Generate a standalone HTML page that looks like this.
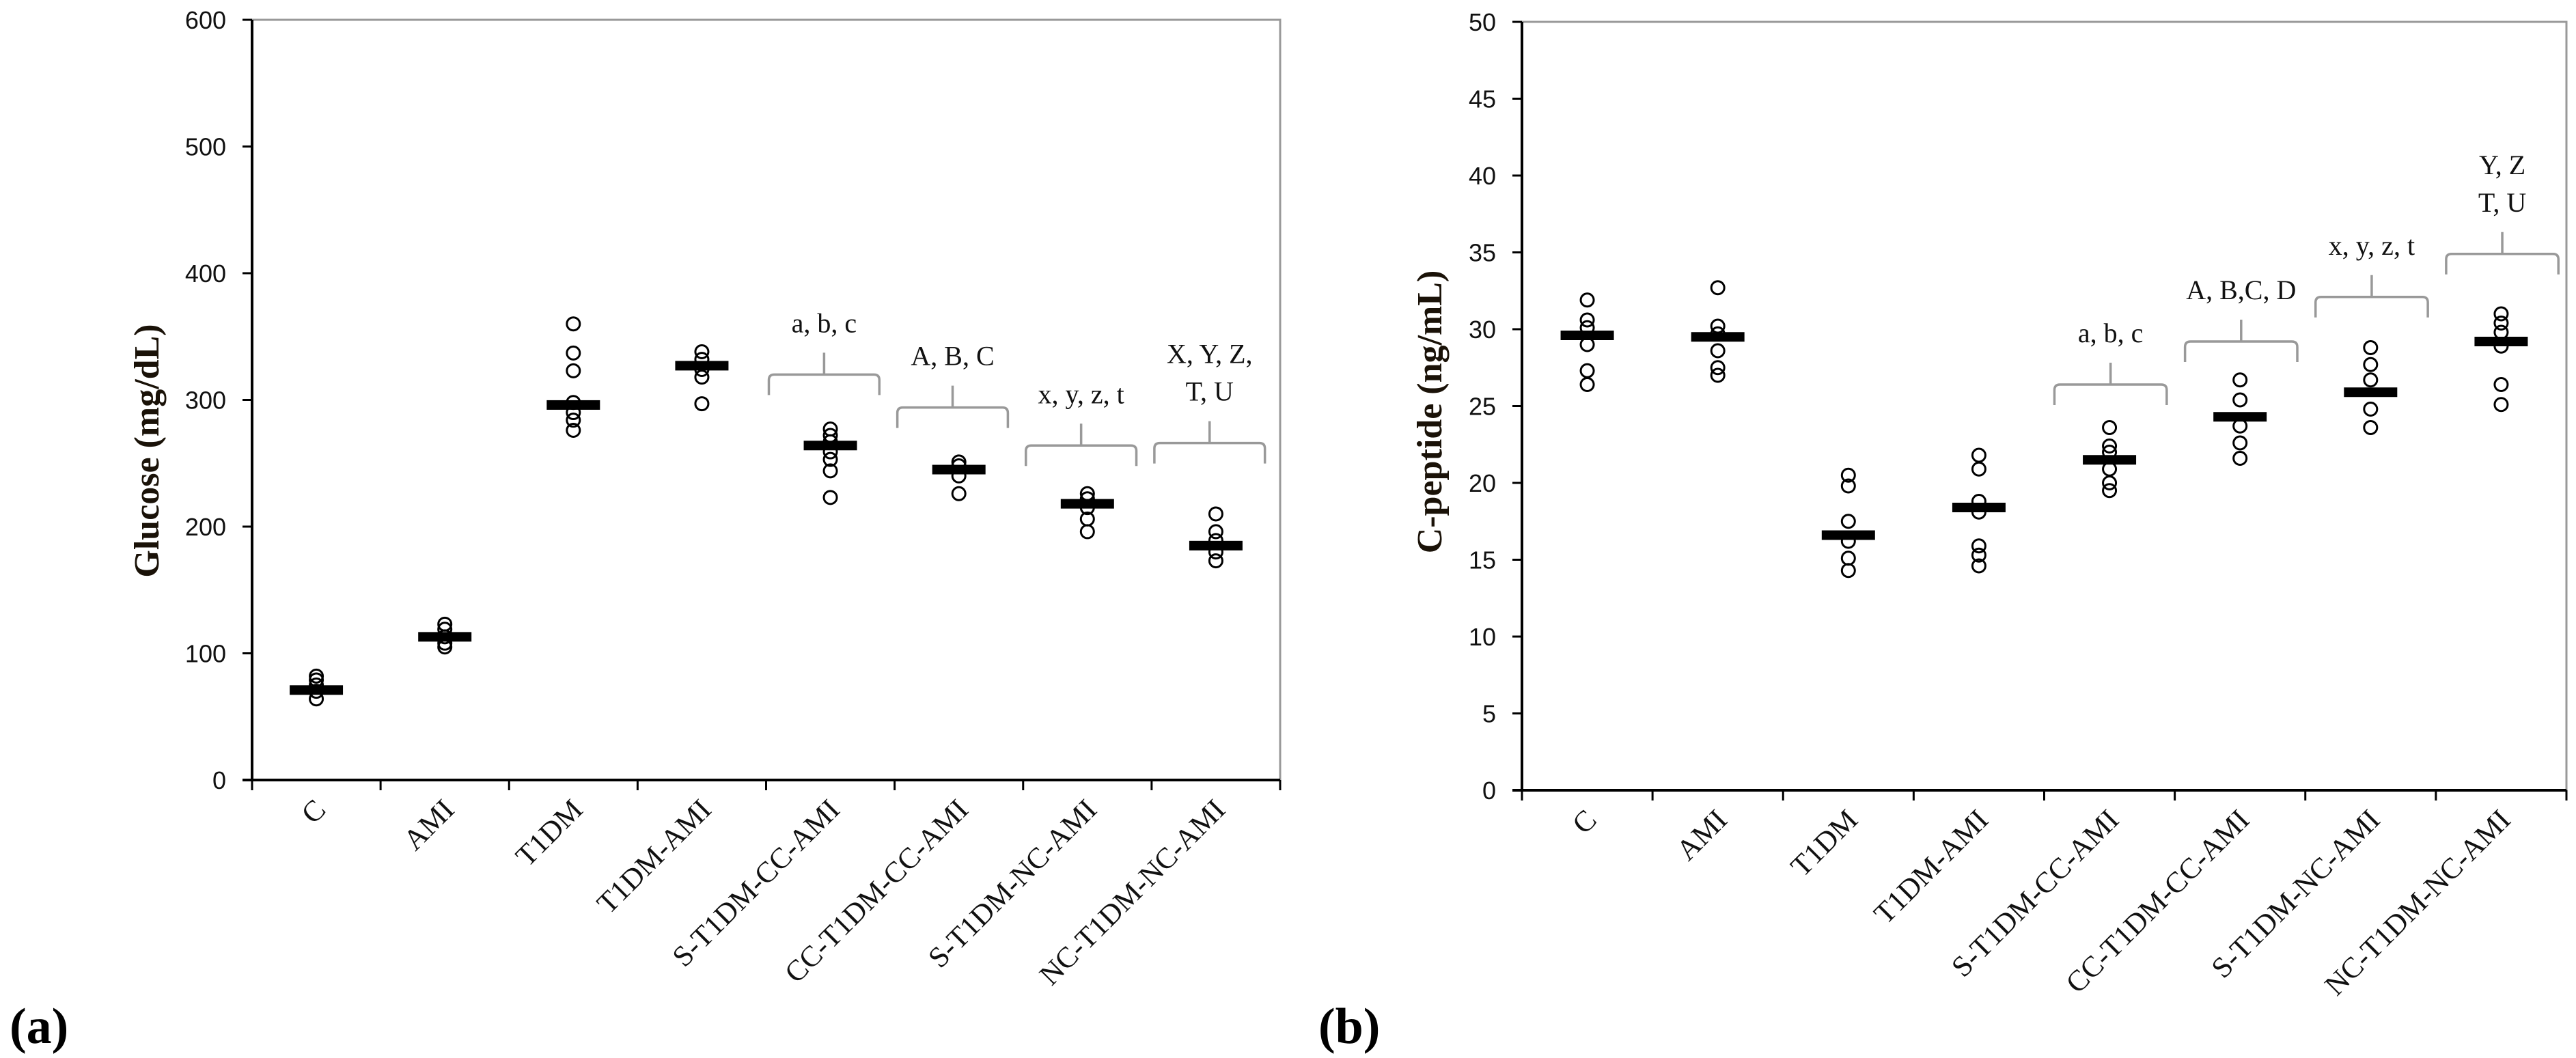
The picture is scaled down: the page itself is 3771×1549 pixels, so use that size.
<!DOCTYPE html>
<html><head><meta charset="utf-8"><style>
html,body{margin:0;padding:0;background:#fff;}
svg{display:block;}
</style></head><body>
<svg id="fig" width="3771" height="1549" viewBox="0 0 3771 1549" xmlns="http://www.w3.org/2000/svg">
<text x="14" y="1527" font-family="Liberation Serif, serif" font-weight="bold" font-size="74" fill="#000">(a)</text>
<text x="1930" y="1527" font-family="Liberation Serif, serif" font-weight="bold" font-size="74" fill="#000">(b)</text>
</svg>
<script>
const categories = ["C","AMI","T1DM","T1DM-AMI","S-T1DM-CC-AMI","CC-T1DM-CC-AMI","S-T1DM-NC-AMI","NC-T1DM-NC-AMI"];

// Panel (a) Glucose
const glucoseTicks = [0,100,200,300,400,500,600];
const glucoseMeans = [71,113,296,327,264,245,218,185];
const glucosePoints = [
  [82,79,75,70,64],
  [123,119,113,108,105],
  [360,337,323,298,290,284,276],
  [338,332,324,318,297],
  [277,272,267,259,253,244,223],
  [251,248,240,226],
  [226,222,215,206,196],
  [210,196,189,180,173]
];
const glucoseBrackets = [null,null,null,null,320,294,264,266];
const glucoseLabels = [null,null,null,null,["a, b, c"],["A, B, C"],["x, y, z, t"],["X, Y, Z,","T, U"]];

// Panel (b) C-peptide
const cpepTicks = [0,5,10,15,20,25,30,35,40,45,50];
const cpepMeans = [29.6,29.5,16.6,18.4,21.5,24.3,25.9,29.2];
const cpepPoints = [
  [31.9,30.6,30.1,29.0,27.3,26.4],
  [32.7,30.2,29.7,28.6,27.5,27.0],
  [20.5,19.8,17.5,16.2,15.1,14.3],
  [21.8,20.9,18.8,18.1,15.9,15.3,14.6],
  [23.6,22.4,22.0,20.9,20.0,19.5],
  [26.7,25.4,23.7,22.6,21.6],
  [28.8,27.7,26.7,24.8,23.6],
  [31.0,30.4,29.8,28.9,26.4,25.1]
];
const cpepBrackets = [null,null,null,null,26.4,29.2,32.1,34.9];
const cpepLabels = [null,null,null,null,["a, b, c"],["A, B,C, D"],["x, y, z, t"],["Y, Z","T, U"]];

const NS = "http://www.w3.org/2000/svg";
const svg = document.getElementById('fig');
function mk(tag, attrs, parent){
  const e = document.createElementNS(NS, tag);
  for (const k in attrs) e.setAttribute(k, attrs[k]);
  (parent||svg).appendChild(e);
  return e;
}

function drawPanel(cfg){
  const g = mk('g', {});
  
  
  const x0 = cfg.x0, x1 = cfg.x1, yTop = cfg.yTop, yBot = cfg.yBot;
  const vmax = cfg.ticks[cfg.ticks.length-1];
  const ys = v => yBot - (v / vmax) * (yBot - yTop);
  const cw = (x1 - x0) / categories.length;
  const xc = i => x0 + cw * (i + 0.5);

  const fr = mk('path', {d:`M${x0} ${yTop} H${x1} V${yBot}`, stroke:'#999', 'stroke-width':3, fill:'none'}, g);
  
  
  const ya = mk('line', {x1:x0, y1:yTop, x2:x0, y2:yBot, stroke:'#000', 'stroke-width':4}, g);
  
  
  const xa = mk('line', {x1:x0-14, y1:yBot, x2:x1, y2:yBot, stroke:'#000', 'stroke-width':4}, g);
  
  

  cfg.ticks.forEach(t => {
    const y = ys(t);
    const tk = mk('line', {x1:x0-14, y1:y, x2:x0, y2:y, stroke:'#000', 'stroke-width':3}, g);
    
    
    const tl = mk('text', {x:x0-38, y:y+13, 'text-anchor':'end', 'font-family':'Liberation Sans, sans-serif', 'font-size':36, fill:'#111'}, g);
    tl.textContent = t;
    
    
  });
  for (let i = 0; i <= categories.length; i++){
    const x = x0 + cw * i;
    const tk = mk('line', {x1:x, y1:yBot, x2:x, y2:yBot+15, stroke:'#000', 'stroke-width':3}, g);
    
    
  }
  categories.forEach((c, i) => {
    const tx = xc(i) + 16, ty = yBot + 46;
    const tl = mk('text', {x:tx, y:ty, 'text-anchor':'end', transform:`rotate(-45 ${tx} ${ty})`, 'font-family':'Liberation Serif, serif', 'font-size':43, fill:'#111'}, g);
    tl.textContent = c;
    
    
  });
  const tt = mk('text', {x:cfg.titleX, y:cfg.titleY, 'text-anchor':'middle', transform:`rotate(-90 ${cfg.titleX} ${cfg.titleY})`, 'font-family':'Liberation Serif, serif', 'font-weight':'bold', 'font-size':52, fill:'#1a1208', 'xml:space':'preserve'}, g);
  tt.textContent = cfg.title;
  
  

  cfg.points.forEach((arr, i) => {
    arr.forEach(v => {
      const c = mk('circle', {cx:xc(i), cy:ys(v), r:9.5, fill:'none', stroke:'#000', 'stroke-width':3}, g);
      
      
    });
  });
  cfg.means.forEach((v, i) => {
    const r = mk('rect', {x:xc(i)-39, y:ys(v)-7, width:78, height:14, fill:'#000'}, g);
    
    
  });
  cfg.brackets.forEach((v, i) => {
    if (v === null) return;
    const y = ys(v);
    const xl = x0 + cw * i + cfg.bOff, xr = xl + cw * 0.86, xm = (xl + xr) / 2;
    const d = `M${xl} ${y+30} V${y+8} Q${xl} ${y} ${xl+8} ${y} H${xr-8} Q${xr} ${y} ${xr} ${y+8} V${y+30} M${xm} ${y} V${y-32}`;
    const p = mk('path', {d:d, stroke:'#999', 'stroke-width':3.5, fill:'none'}, g);
    
    
    const lines = cfg.labels[i];
    const baseY = y - 62 - (lines.length - 1) * 55;
    lines.forEach((ln, k) => {
      const t = mk('text', {x:xm, y:baseY + k*55, 'text-anchor':'middle', 'font-family':'Liberation Serif, serif', 'font-size':40, fill:'#111'}, g);
      t.textContent = ln;
      
      
    });
  });
}

drawPanel({name:'glucose-chart', x0:369, x1:1874, yTop:29, yBot:1142, ticks:glucoseTicks, means:glucoseMeans, points:glucosePoints, brackets:glucoseBrackets, labels:glucoseLabels, title:'Glucose (mg/dL)', titleX:232, titleY:660, bOff:4});
drawPanel({name:'c-peptide-chart', x0:2228, x1:3757, yTop:32, yBot:1157, ticks:cpepTicks, means:cpepMeans, points:cpepPoints, brackets:cpepBrackets, labels:cpepLabels, title:'C-peptide  (ng/mL)', titleX:2110, titleY:603, bOff:15});
</script>
</body></html>
